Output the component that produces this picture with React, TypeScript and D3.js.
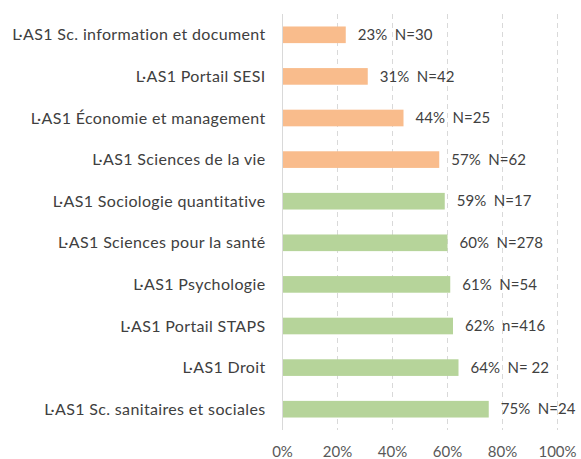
import React from 'react';
import * as d3 from 'd3';

// categories top -> bottom
const categories = [
  'L·AS1 Sc. information et document',
  'L·AS1 Portail SESI',
  'L·AS1 Économie et management',
  'L·AS1 Sciences de la vie',
  'L·AS1 Sociologie quantitative',
  'L·AS1 Sciences pour la santé',
  'L·AS1 Psychologie',
  'L·AS1 Portail STAPS',
  'L·AS1 Droit',
  'L·AS1 Sc. sanitaires et sociales',
];
const rates = [23, 31, 44, 57, 59, 60, 61, 62, 64, 75];
const counts = ['N=30', 'N=42', 'N=25', 'N=62', 'N=17', 'N=278', 'N=54', 'n=416', 'N= 22', 'N=24'];
const groups = ['low', 'low', 'low', 'low', 'high', 'high', 'high', 'high', 'high', 'high'];
const xTicks = [0, 20, 40, 60, 80, 100];

const colors: Record<string, string> = { low: '#F9BC8C', high: '#B6D49A' };

const W = 581, H = 459;
const left = 282.5, right = 557.5, top = 14, bottom = 430;
const font = 'Lato, "Open Sans", sans-serif';

export default function App() {
  const x = d3.scaleLinear().domain([0, 100]).range([left, right]);
  const y = d3.scaleBand().domain(categories).range([top, bottom]).paddingInner(0.6).paddingOuter(0.3);

  return (
    <svg width={W} height={H} style={{ position: 'absolute', left: 0, top: 0, background: '#fff' }}>
      {xTicks.slice(1).map(t => (
        <line key={t} x1={x(t)} x2={x(t)} y1={top} y2={bottom}
          stroke="#D9D9D9" strokeWidth={1} strokeDasharray="5,4" />
      ))}
      {categories.map((c, i) => {
        const yy = y(c)!;
        const bh = y.bandwidth();
        return (
          <g key={c}>
            <rect x={x(0)} y={yy} width={x(rates[i]) - x(0)} height={bh} fill={colors[groups[i]]} />
            <text x={left - 17} y={yy + bh / 2} dy="0.35em" textAnchor="end"
              fontFamily={font} fontSize={16} letterSpacing={0.35} fill="#404040">{c}</text>
            <text x={x(rates[i]) + 12} y={yy + bh / 2} dy="0.35em"
              fontFamily={font} fontSize={15} fill="#404040" style={{ whiteSpace: 'pre' }}>
              {rates[i] + '%  ' + counts[i]}
            </text>
          </g>
        );
      })}
      <line x1={x(0)} x2={x(0)} y1={top} y2={bottom} stroke="#D9D9D9" strokeWidth={1} />
      {xTicks.map(t => (
        <text key={t} x={x(t)} y={452} dy="0.35em" textAnchor="middle"
          fontFamily={font} fontSize={15} fill="#595959">{t + '%'}</text>
      ))}
    </svg>
  );
}
